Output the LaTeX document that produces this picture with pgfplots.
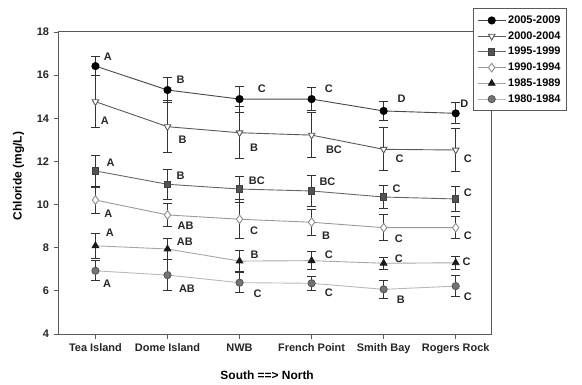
\documentclass[border=0pt]{standalone}
\usepackage{pgfplots}
\pgfplotsset{compat=1.18}
\usepackage{pgfplotstable}
\usepackage{fontspec}
\setmainfont{Liberation Sans}
\usetikzlibrary{calc}
\definecolor{axc}{HTML}{5A5A5A}
\definecolor{ebc}{HTML}{333333}

\pgfplotstableread{
x y e
0 16.42 0.45
1 15.31 0.57
2 14.89 0.60
3 14.89 0.53
4 14.34 0.46
5 14.23 0.49
}\sA
\pgfplotstableread{
x y e
0 14.77 1.20
1 13.61 1.20
2 13.33 1.20
3 13.22 1.05
4 12.56 1.00
5 12.53 1.00
}\sB
\pgfplotstableread{
x y e
0 11.56 0.74
1 10.94 0.71
2 10.72 0.60
3 10.63 0.70
4 10.35 0.55
5 10.26 0.60
}\sC
\pgfplotstableread{
x y e
0 10.21 0.60
1 9.52 0.55
2 9.32 0.90
3 9.18 0.60
4 8.93 0.60
5 8.93 0.52
}\sD
\pgfplotstableread{
x y e
0 8.09 0.57
1 7.94 0.47
2 7.38 0.50
3 7.40 0.42
4 7.28 0.27
5 7.30 0.31
}\sE
\pgfplotstableread{
x y e
0 6.93 0.47
1 6.73 0.73
2 6.38 0.47
3 6.35 0.32
4 6.07 0.40
5 6.22 0.50
}\sF

\begin{document}
\begin{tikzpicture}
\begin{axis}[
  name=ax,
  scale only axis,
  width=433bp, height=302bp,
  xmin=-0.52, xmax=5.49,
  ymin=4, ymax=18,
  ytick={4,6,...,18},
  xtick={0,1,2,3,4,5},
  xticklabels={Tea Island,Dome Island,NWB,French Point,Smith Bay,Rogers Rock},
  xtick pos=lower, ytick pos=left,
  tick align=outside,
  major tick length=4.5bp,
  every tick/.style={axc, line width=0.9bp},
  axis line style={axc, line width=1bp},
  /pgf/number format/assume math mode=true,
  tick label style={font=\fontsize{11}{13}\selectfont\bfseries, text=black!85},
  xticklabel style={yshift=-2bp},
  yticklabel style={xshift=-1bp},
  xlabel={South ==> North},
  ylabel={Chloride (mg/L)},
  xlabel style={font=\fontsize{12}{14}\selectfont\bfseries, at={(axis description cs:0.483,-0.136)}, anchor=center},
  ylabel style={font=\fontsize{12}{14}\selectfont\bfseries, at={(axis description cs:-0.091,0.523)}, anchor=center, rotate=0},
  clip=false,
  legend style={at={(axis description cs:0.958,1.078)}, anchor=north west,
    draw=axc, line width=0.9bp, fill=white,
    font=\fontsize{11}{13}\selectfont\bfseries,
    inner xsep=4bp, inner ysep=5bp, row sep=2.6bp},
  legend cell align=left,
  legend image code/.code={\draw[mark repeat=2,mark phase=2] plot coordinates {(0bp,0bp) (14bp,0bp) (28bp,0bp)};},
  error bars/error bar style={ebc, line width=0.9bp},
  error bars/error mark options={ebc, rotate=90, mark size=4.6bp, line width=0.9bp},
]
\addplot[color=black!72, line width=0.9bp, mark=*, mark size=3.6bp, mark options={fill=black, draw=black},
  error bars/.cd, y dir=both, y explicit] table[x=x, y=y, y error=e]{\sA};
\addlegendentry{2005-2009}
\addplot[color=black!65, line width=0.9bp, mark=triangle*, mark size=3.8bp, mark options={fill=white, draw=black!65, rotate=180},
  error bars/.cd, y dir=both, y explicit] table[x=x, y=y, y error=e]{\sB};
\addlegendentry{2000-2004}
\addplot[color=black!60, line width=0.9bp, mark=square*, mark size=3.2bp, mark options={fill=black!68, draw=black!75},
  error bars/.cd, y dir=both, y explicit] table[x=x, y=y, y error=e]{\sC};
\addlegendentry{1995-1999}
\addplot[color=black!40, line width=0.9bp, mark=diamond*, mark size=4.3bp, mark options={fill=white, draw=black!45},
  error bars/.cd, y dir=both, y explicit] table[x=x, y=y, y error=e]{\sD};
\addlegendentry{1990-1994}
\addplot[color=black!35, line width=0.9bp, mark=triangle*, mark size=3.8bp, mark options={fill=black!90, draw=black!90},
  error bars/.cd, y dir=both, y explicit] table[x=x, y=y, y error=e]{\sE};
\addlegendentry{1985-1989}
\addplot[color=black!28, line width=0.9bp, mark=*, mark size=3.6bp, mark options={fill=black!55, draw=black!65},
  error bars/.cd, y dir=both, y explicit] table[x=x, y=y, y error=e]{\sF};
\addlegendentry{1980-1984}

\coordinate (SW) at (rel axis cs:0,0);
\coordinate (NE) at (rel axis cs:1,1);

\begin{scope}[every node/.style={font=\fontsize{11}{13}\selectfont\bfseries, text=black!85, inner sep=0pt}]
% 2005-2009
\node at (axis cs:0.17,16.84) {A};
\node at (axis cs:1.18,15.78) {B};
\node at (axis cs:2.31,15.36) {C};
\node at (axis cs:3.24,15.36) {C};
\node at (axis cs:4.25,14.89) {D};
\node at (axis cs:5.12,14.66) {D};
% 2000-2004
\node at (axis cs:0.13,13.87) {A};
\node at (axis cs:1.21,12.99) {B};
\node at (axis cs:2.20,12.62) {B};
\node at (axis cs:3.31,12.53) {BC};
\node at (axis cs:4.22,12.11) {C};
\node at (axis cs:5.17,12.11) {C};
% 1995-1999
\node at (axis cs:0.21,11.93) {A};
\node at (axis cs:1.18,11.32) {B};
\node at (axis cs:2.24,11.09) {BC};
\node at (axis cs:3.22,11.05) {BC};
\node at (axis cs:4.18,10.72) {C};
\node at (axis cs:5.17,10.54) {C};
% 1990-1994
\node at (axis cs:0.18,9.56) {A};
\node at (axis cs:1.25,9.01) {AB};
\node at (axis cs:2.20,8.77) {C};
\node at (axis cs:3.20,8.54) {B};
\node at (axis cs:4.21,8.40) {C};
\node at (axis cs:5.17,8.54) {C};
% 1985-1989
\node at (axis cs:0.20,8.68) {A};
\node at (axis cs:1.24,8.26) {AB};
\node at (axis cs:2.21,7.66) {B};
\node at (axis cs:3.24,7.66) {C};
\node at (axis cs:4.21,7.48) {C};
\node at (axis cs:5.15,7.34) {C};
% 1980-1984
\node at (axis cs:0.16,6.32) {A};
\node at (axis cs:1.27,6.09) {AB};
\node at (axis cs:2.25,5.85) {C};
\node at (axis cs:3.24,5.90) {C};
\node at (axis cs:4.24,5.58) {B};
\node at (axis cs:5.17,5.71) {C};
\end{scope}
\end{axis}
\pgfresetboundingbox
\path[use as bounding box] ($(SW)+(-58bp,-51bp)$) rectangle ($(NE)+(91bp,32bp)$);
\end{tikzpicture}
\end{document}
